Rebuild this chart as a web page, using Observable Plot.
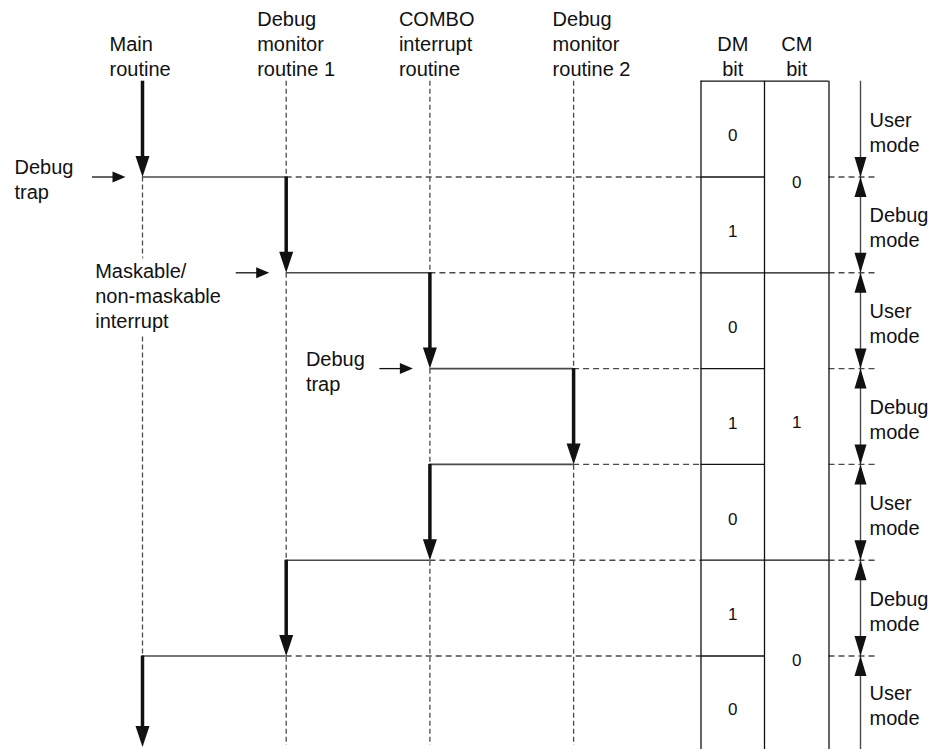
<!DOCTYPE html>
<html>
<head>
<meta charset="utf-8">
<script src="https://cdn.jsdelivr.net/npm/d3@7"></script>
<script src="https://cdn.jsdelivr.net/npm/@observablehq/plot@0.6"></script>
<style>
  body { margin: 0; background: #fff; }
  svg { display: block; }
</style>
</head>
<body>
<div id="chart"></div>
<script>
// ---------- data ----------
const routines = ["Main\nroutine", "Debug\nmonitor\nroutine 1", "COMBO\ninterrupt\nroutine", "Debug\nmonitor\nroutine 2"];
// routine executing during each step (step k lies between event k-1 and event k)
const stepRoutine = [0, 1, 2, 3, 2, 1, 0];
const dmBit = [0, 1, 0, 1, 0, 1, 0];
const cmBit = [0, 0, 1, 1, 1, 0, 0];
const modeNames = ["User\nmode", "Debug\nmode"];
const eventLabels = ["Debug\ntrap", "Maskable/\nnon-maskable\ninterrupt", "Debug\ntrap", "", "", ""];
const bitHeaders = ["DM\nbit", "CM\nbit"];

// ---------- layout (code, not data) ----------
const W = 934, H = 749;
const COL = 143.7, X0 = 142;   // px per routine column, px of first column
const LEV = 95.8, Y0 = 176.5;  // px per event level, px of first event
const cx = p => p / COL;       // px offset -> column units
const ly = p => p / LEV;       // px offset -> level units
const TOP = -1, BOTTOM = (H - Y0) / LEV;
const DM_L = cx(700.5 - X0), DM_R = cx(764 - X0), CM_R = cx(828.5 - X0);
const MODE_X = cx(860 - X0), DASH_END = cx(877 - X0);
const topLabelDx = [-33, -29, -31, -21];
const eventLabelDx = [-128, -191, -124];
const eventLabelDy = [21.5, 54.7, 22];

const ink = "#111", grey = "#4a4a4a";
const font = "Liberation Sans, Arial, Helvetica, sans-serif";

const events = d3.range(stepRoutine.length - 1).map(k => ({
  level: k, from: stepRoutine[k], to: stepRoutine[k + 1], label: eventLabels[k]
}));
const labeled = events.filter(e => e.label);
const steps = stepRoutine.map((r, k) => ({
  k, routine: r, y1: k - 1, y2: k === stepRoutine.length - 1 ? BOTTOM : k,
  dm: dmBit[k], cm: cmBit[k], mode: modeNames[dmBit[k]]
}));
// CM runs
const cmRuns = [];
steps.forEach(s => {
  const last = cmRuns[cmRuns.length - 1];
  if (last && last.v === s.cm) last.end = s.y2;
  else cmRuns.push({v: s.cm, start: s.y1, end: s.y2});
});
const cmChanges = events.filter(e => cmBit[e.level] !== cmBit[e.level + 1]);

const head = (w, h) => ({draw(ctx) { ctx.moveTo(0, 0); ctx.lineTo(-w / 2, -h); ctx.lineTo(w / 2, -h); ctx.closePath(); }});
const bigHead = head(14, 21), modeHead = head(12, 20), smallHead = head(11, 13);

const textBase = {fontFamily: font, fontSize: 20, lineHeight: 1.25, fill: ink};

const chart = Plot.plot({
  width: W, height: H, margin: 0,
  x: {domain: [-X0 / COL, (W - X0) / COL], range: [0, W], axis: null},
  y: {domain: [-Y0 / LEV, (H - Y0) / LEV], range: [0, H], axis: null},
  style: {background: "#fff", fontFamily: font},
  marks: [
    // lifelines (dashed)
    Plot.ruleX(routines.map((_, i) => i), {x: d => d, y1: d => d === 0 ? 0 : TOP, y2: BOTTOM - ly(4),
      stroke: grey, strokeWidth: 1.3, strokeDasharray: "5,3"}),
    // transfer lines (solid) and their dashed continuation to the bit table
    Plot.ruleY(events, {y: "level", x1: d => Math.min(d.from, d.to), x2: d => Math.max(d.from, d.to),
      stroke: grey, strokeWidth: 1.6}),
    Plot.ruleY(events, {y: "level", x1: d => Math.max(d.from, d.to), x2: DM_L,
      stroke: grey, strokeWidth: 1.4, strokeDasharray: "6,4"}),
    Plot.ruleY(events, {y: "level", x1: CM_R, x2: DASH_END,
      stroke: grey, strokeWidth: 1.4, strokeDasharray: "6,4"}),
    // bit table
    Plot.ruleX([DM_L, DM_R, CM_R], {x: d => d, y1: TOP, y2: BOTTOM, stroke: ink, strokeWidth: 1.3}),
    Plot.ruleY([TOP], {y: d => d, x1: DM_L, x2: CM_R, stroke: ink, strokeWidth: 1.3}),
    Plot.ruleY(events, {y: "level", x1: DM_L, x2: DM_R, stroke: ink, strokeWidth: 1.3}),
    Plot.ruleY(cmChanges, {y: "level", x1: DM_R, x2: CM_R, stroke: ink, strokeWidth: 1.3}),
    Plot.text(steps, {x: (DM_L + DM_R) / 2, y: d => (d.y1 + d.y2) / 2, text: d => String(d.dm),
      ...textBase, fontSize: 17, dy: 5.5}),
    Plot.text(cmRuns, {x: (DM_R + CM_R) / 2, y: d => (d.start + d.end) / 2, text: d => String(d.v),
      ...textBase, fontSize: 17, dy: 4.5}),
    Plot.text(bitHeaders, {x: (d, i) => i === 0 ? (DM_L + DM_R) / 2 : (DM_R + CM_R) / 2, y: TOP, text: d => d,
      ...textBase, lineAnchor: "bottom", dy: -5}),
    // execution arrows (thick)
    Plot.ruleX(steps, {x: "routine", y1: "y1", y2: d => d.k === steps.length - 1 ? d.y2 - ly(2.5) : d.y2,
      stroke: ink, strokeWidth: 3.5, insetBottom: 12}),
    Plot.dot(steps, {x: "routine", y: d => d.k === steps.length - 1 ? d.y2 - ly(2.5) : d.y2,
      symbol: bigHead, fill: ink, stroke: "none"}),
    // event trigger arrows (small)
    Plot.ruleY(labeled, {y: "level", x1: d => d.from - cx(50), x2: d => d.from - cx(17),
      stroke: ink, strokeWidth: 1.3, insetRight: 8}),
    Plot.dot(labeled, {x: d => d.from - cx(17), y: "level", symbol: smallHead, rotate: -90, fill: ink, stroke: "none"}),
    // mode arrows
    Plot.ruleX([MODE_X], {x: d => d, y1: TOP, y2: BOTTOM, stroke: grey, strokeWidth: 1.4}),
    Plot.dot(events, {x: MODE_X, y: "level", symbol: modeHead, fill: ink, stroke: "none"}),
    Plot.dot(events, {x: MODE_X, y: "level", symbol: modeHead, rotate: 180, fill: ink, stroke: "none"}),
    Plot.text(steps, {x: MODE_X + cx(9), y: d => (d.y1 + d.y2) / 2, text: "mode",
      ...textBase, textAnchor: "start", dy: 2}),
    // labels
    Plot.text(routines, {x: (d, i) => i + cx(topLabelDx[i]), y: TOP, text: d => d,
      ...textBase, textAnchor: "start", lineAnchor: "bottom", dy: -5}),
    Plot.text(labeled, {x: (d, i) => d.from + cx(eventLabelDx[i]), y: (d, i) => d.level + ly(eventLabelDy[i]), text: "label",
      ...textBase, textAnchor: "start", lineAnchor: "bottom", stroke: "#fff", strokeWidth: 16,
      strokeLinejoin: "round", paintOrder: "stroke"})
  ]
});
document.getElementById("chart").appendChild(chart);
</script>
</body>
</html>
